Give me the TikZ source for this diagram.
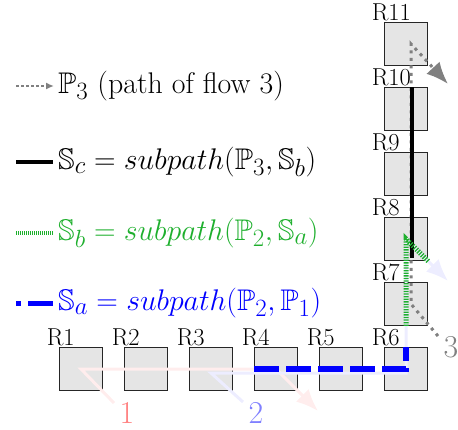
\documentclass[tikz,border=0pt]{standalone}
\usepackage{amssymb}
\usepackage{graphicx}
\usetikzlibrary{arrows.meta,calc}
\definecolor{sgreen}{RGB}{30,175,45}
\definecolor{fgray}{RGB}{128,128,128}
\newcommand{\enlargetext}[1]{\scalebox{1.2}{#1}}
\newcommand{\enlargedigit}[1]{\scalebox{1.28}{#1}}
\begin{document}
\begin{tikzpicture}[x=1pt,y=-1pt,
  box/.style={draw=black!85, fill=black!10, line width=0.8pt, minimum size=43pt, inner sep=0pt},
  rlab/.style={font=\fontsize{20.74}{24}\selectfont, anchor=base west, inner sep=0pt},
  leg/.style={font=\fontsize{24.88}{30}\selectfont, anchor=west, inner sep=0pt},
  flab/.style={font=\fontsize{24.88}{30}\selectfont, inner sep=0pt},
  bigtip/.style={-{Latex[length=22pt,width=18pt]}},
  flowone/.style={draw=red!7, line width=3pt, bigtip},
  flowtwo/.style={draw=blue!7, line width=3pt, bigtip},
  flowthree/.style={draw=fgray, line width=3pt, dash pattern=on 3pt off 4.5pt, bigtip},
  subc/.style={draw=black, line width=4.5pt},
  subb/.style={draw=sgreen, line width=5pt, dash pattern=on 1.3pt off 1.3pt},
  suba/.style={draw=blue, line width=6pt, dash pattern=on 25pt off 7pt},
]
\useasboundingbox (0,0) rectangle (458,429);

% routers
\foreach \n/\x in {1/81,2/146,3/211,4/276,5/341,6/406}
  \node[box] (R\n) at (\x,369) {};
\foreach \n/\y in {7/304,8/239,9/174,10/109,11/44}
  \node[box] (R\n) at (406,\y) {};
\foreach \n in {1,...,11}
  \node[rlab] (L\n) at ([xshift=-12.5pt,yshift=2pt]R\n.north west) {\scalebox{1.18}{R\n}};

% flow labels and ends
\node[flab, text=red!50] (n1) at (127,413) {\enlargedigit{1}};
\node[flab, text=blue!50] (n2) at (256,413) {\enlargedigit{2}};
\node[flab, text=fgray] (n3) at (451,347) {\enlargedigit{3}};
\coordinate (f1s) at (114,403);
\coordinate (f1e) at (318,411);
\coordinate (f2s) at (243,402);
\coordinate (f2e) at (448,281);
\coordinate (f3s) at (438,336);
\coordinate (f3e) at (448,84);

% flows
\draw[flowone] (f1s) -- (R1.center) -- (R4.center) -- (f1e);
\draw[flowtwo] (f2s) -- ([yshift=-4pt]R3.center) -- ([yshift=-4pt]R6.center) -- (R8.center) -- (f2e);
\draw[flowthree] (f3s) -- ([xshift=5pt]R7.center) -- ([xshift=5pt]R11.center) -- (f3e);

% subpaths
\draw[subc] ([xshift=6pt]R10.north) -- ([xshift=6pt,yshift=-19pt]R8.center);
\draw[subb] (R7.south) -- (R8.center) -- ($(R8.center)!0.55!(f2e)$);
\draw[suba] (R4.west) -- (R6.center) -- (R6.north);

% legend
\node[leg] (t3) at (58,86) {\enlargetext{$\mathbb{P}_3$ (path of flow 3)}};
\node[leg] (tc) at (58,162) {\enlargetext{$\mathbb{S}_c = subpath(\mathbb{P}_3, \mathbb{S}_b)$}};
\node[leg, text=sgreen] (tb) at (58,233) {\enlargetext{$\mathbb{S}_b = subpath(\mathbb{P}_2, \mathbb{S}_a)$}};
\node[leg, text=blue] (ta) at (58,303) {\enlargetext{$\mathbb{S}_a = subpath(\mathbb{P}_2, \mathbb{P}_1)$}};
\coordinate (k3) at (16,86);
\coordinate (kc) at (16,162);
\coordinate (kb) at (16,233);
\coordinate (ka) at (16,303);
\draw[draw=fgray, line width=2pt, dash pattern=on 2.5pt off 2.5pt, -{Latex[length=8pt,width=7pt]}] (k3) -- ([xshift=-4pt]t3.west);
\draw[subc, line width=4pt] (kc) -- ([xshift=-5pt]tc.west);
\draw[subb, line width=4pt, dash pattern=on 1pt off 1pt] (kb) -- ([xshift=-5pt]tb.west);
\draw[draw=blue, line width=5pt, dash pattern=on 5pt off 7pt on 25pt off 7pt] (ka) -- ([xshift=-5pt]ta.west);
\end{tikzpicture}
\end{document}
